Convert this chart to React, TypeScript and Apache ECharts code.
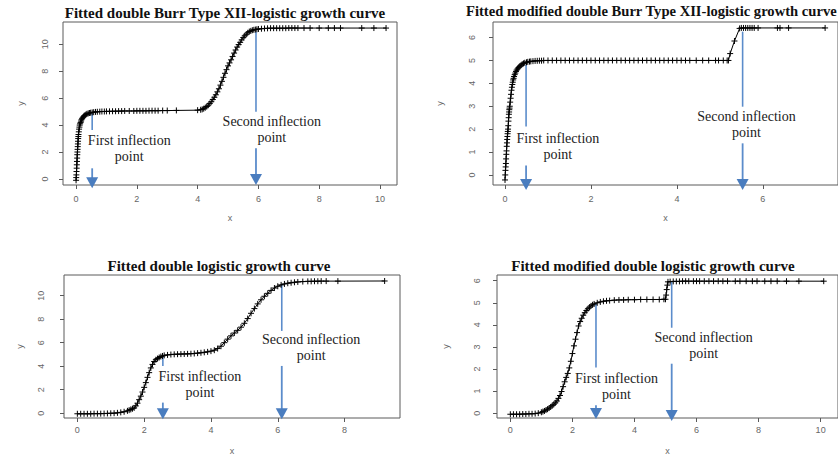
import React, { useEffect, useRef } from "react";
import * as echarts from "echarts";

// ---- fitted curves (x, y) ----
const burrX = [0, 0.005, 0.01, 0.015, 0.02, 0.025, 0.03, 0.035, 0.04, 0.045, 0.05, 0.055, 0.06, 0.065, 0.07, 0.075, 0.08, 0.09, 0.1, 0.11, 0.12, 0.135, 0.15, 0.165, 0.18, 0.2, 0.22, 0.245, 0.27, 0.3, 0.33, 0.36, 0.4, 0.44, 0.48, 0.53, 0.58, 0.64, 0.7, 0.78, 0.85, 0.93, 1.0, 1.1, 1.2, 1.3, 1.4, 1.5, 1.6, 1.75, 1.9, 2.0, 2.1, 2.2, 2.3, 2.4, 2.5, 2.6, 2.7, 2.85, 3.0, 3.3, 4.0, 4.1, 4.15, 4.2, 4.25, 4.3, 4.35, 4.4, 4.45, 4.5, 4.55, 4.6, 4.65, 4.7, 4.75, 4.8, 4.85, 4.9, 4.95, 5.0, 5.05, 5.1, 5.15, 5.2, 5.25, 5.3, 5.35, 5.4, 5.45, 5.5, 5.55, 5.6, 5.65, 5.7, 5.75, 5.8, 5.85, 5.9, 5.95, 6.0, 6.1, 6.2, 6.3, 6.4, 6.5, 6.6, 6.7, 6.8, 6.9, 7.0, 7.1, 7.2, 7.3, 7.5, 7.7, 8.0, 8.3, 8.5, 8.7, 9.4, 9.8, 10.2];
const burrY = [-0.1, 0.1, 0.3, 0.55, 0.8, 1.05, 1.3, 1.55, 1.8, 2.0, 2.2, 2.4, 2.6, 2.8, 3.0, 3.15, 3.3, 3.5, 3.7, 3.85, 4.0, 4.1, 4.2, 4.3, 4.4, 4.48, 4.55, 4.63, 4.7, 4.75, 4.8, 4.84, 4.87, 4.9, 4.92, 4.94, 4.96, 4.98, 4.99, 5.0, 5.01, 5.01, 5.02, 5.02, 5.03, 5.03, 5.04, 5.04, 5.05, 5.05, 5.05, 5.06, 5.06, 5.06, 5.06, 5.07, 5.07, 5.07, 5.07, 5.08, 5.08, 5.09, 5.11, 5.14, 5.17, 5.22, 5.29, 5.38, 5.48, 5.6, 5.74, 5.9, 6.07, 6.25, 6.47, 6.7, 6.97, 7.25, 7.55, 7.85, 8.12, 8.4, 8.62, 8.85, 9.1, 9.35, 9.58, 9.8, 9.98, 10.15, 10.33, 10.5, 10.63, 10.75, 10.86, 10.95, 11.0, 11.05, 11.08, 11.1, 11.12, 11.14, 11.16, 11.18, 11.19, 11.2, 11.2, 11.2, 11.2, 11.2, 11.2, 11.21, 11.21, 11.21, 11.21, 11.21, 11.21, 11.21, 11.21, 11.21, 11.21, 11.21, 11.21, 11.21];

const modBurrX = [0, 0.005, 0.01, 0.015, 0.02, 0.025, 0.03, 0.035, 0.04, 0.045, 0.05, 0.055, 0.06, 0.065, 0.07, 0.075, 0.08, 0.085, 0.09, 0.095, 0.1, 0.105, 0.11, 0.12, 0.13, 0.14, 0.15, 0.16, 0.17, 0.18, 0.19, 0.2, 0.21, 0.225, 0.24, 0.255, 0.27, 0.29, 0.31, 0.33, 0.35, 0.375, 0.4, 0.43, 0.46, 0.5, 0.53, 0.57, 0.6, 0.65, 0.7, 0.75, 0.8, 0.85, 0.9, 1.0, 1.1, 1.2, 1.3, 1.4, 1.5, 1.6, 1.7, 1.8, 1.9, 2.0, 2.1, 2.2, 2.3, 2.4, 2.5, 2.6, 2.7, 2.8, 2.9, 3.0, 3.1, 3.2, 3.3, 3.4, 3.5, 3.6, 3.7, 3.8, 3.9, 4.0, 4.1, 4.2, 4.3, 4.45, 4.6, 4.74, 4.9, 4.97, 5.08, 5.17, 5.2, 5.24, 5.34, 5.46, 5.5, 5.55, 5.6, 5.65, 5.7, 5.75, 5.8, 5.89, 6.34, 6.4, 6.6, 7.45];
const modBurrY = [-0.22, 0.0, 0.2, 0.35, 0.5, 0.7, 0.9, 1.05, 1.25, 1.4, 1.55, 1.68, 1.8, 1.9, 2.0, 2.15, 2.35, 2.5, 2.65, 2.75, 2.85, 2.92, 3.0, 3.18, 3.35, 3.52, 3.7, 3.83, 3.95, 4.05, 4.15, 4.22, 4.3, 4.38, 4.45, 4.52, 4.58, 4.63, 4.68, 4.72, 4.76, 4.8, 4.84, 4.87, 4.9, 4.92, 4.94, 4.95, 4.96, 4.97, 4.98, 4.985, 4.99, 4.99, 5.0, 5.0, 5.0, 5.0, 5.0, 5.0, 5.0, 5.0, 5.0, 5.0, 5.0, 5.0, 5.0, 5.0, 5.0, 5.0, 5.0, 5.0, 5.0, 5.0, 5.0, 5.0, 5.0, 5.0, 5.0, 5.0, 5.0, 5.0, 5.0, 5.0, 5.0, 5.0, 5.0, 5.0, 5.0, 5.0, 5.0, 5.0, 5.0, 5.0, 5.0, 5.0, 5.0, 5.3, 5.85, 6.4, 6.42, 6.42, 6.42, 6.42, 6.42, 6.42, 6.42, 6.42, 6.42, 6.42, 6.42, 6.42];

const logX = [0, 0.1, 0.2, 0.3, 0.4, 0.5, 0.6, 0.7, 0.8, 0.9, 1.0, 1.1, 1.2, 1.3, 1.4, 1.5, 1.55, 1.6, 1.65, 1.7, 1.75, 1.8, 1.85, 1.9, 1.95, 2.0, 2.05, 2.1, 2.15, 2.2, 2.25, 2.3, 2.35, 2.4, 2.45, 2.5, 2.55, 2.6, 2.7, 2.8, 2.9, 3.0, 3.1, 3.2, 3.3, 3.4, 3.5, 3.6, 3.7, 3.8, 3.9, 4.0, 4.1, 4.2, 4.3, 4.4, 4.5, 4.6, 4.7, 4.8, 4.9, 5.0, 5.1, 5.2, 5.3, 5.4, 5.5, 5.6, 5.7, 5.8, 5.9, 6.0, 6.1, 6.2, 6.3, 6.4, 6.5, 6.6, 6.75, 6.9, 7.0, 7.1, 7.2, 7.3, 7.45, 7.8, 9.2];
const logY = [-0.05, -0.05, -0.05, -0.05, -0.05, -0.04, -0.04, -0.04, -0.03, -0.02, -0.01, 0.0, 0.03, 0.07, 0.12, 0.2, 0.26, 0.32, 0.38, 0.45, 0.62, 0.85, 1.15, 1.45, 1.8, 2.2, 2.6, 3.05, 3.45, 3.85, 4.15, 4.4, 4.55, 4.65, 4.74, 4.82, 4.87, 4.92, 4.96, 4.99, 5.01, 5.02, 5.03, 5.04, 5.05, 5.06, 5.08, 5.11, 5.14, 5.18, 5.22, 5.28, 5.36, 5.5, 5.7, 6.0, 6.3, 6.58, 6.82, 7.05, 7.32, 7.65, 8.05, 8.5, 8.9, 9.3, 9.65, 9.95, 10.2, 10.45, 10.65, 10.8, 10.92, 11.0, 11.06, 11.1, 11.14, 11.17, 11.2, 11.22, 11.22, 11.23, 11.23, 11.24, 11.24, 11.24, 11.25];

const modLogX = [0, 0.1, 0.2, 0.3, 0.4, 0.5, 0.6, 0.7, 0.8, 0.9, 1.0, 1.05, 1.1, 1.15, 1.2, 1.25, 1.3, 1.35, 1.4, 1.45, 1.5, 1.55, 1.6, 1.65, 1.7, 1.75, 1.8, 1.85, 1.9, 1.95, 2.0, 2.05, 2.1, 2.15, 2.2, 2.25, 2.3, 2.35, 2.4, 2.45, 2.5, 2.55, 2.6, 2.65, 2.7, 2.8, 2.9, 3.0, 3.1, 3.2, 3.35, 3.5, 3.65, 3.8, 4.0, 4.2, 4.4, 4.6, 4.8, 4.95, 5.0, 5.02, 5.04, 5.06, 5.08, 5.15, 5.25, 5.35, 5.45, 5.55, 5.65, 5.75, 5.9, 6.0, 6.1, 6.25, 6.4, 6.55, 6.7, 6.85, 7.0, 7.25, 7.4, 7.6, 7.8, 7.95, 8.2, 8.4, 8.6, 8.9, 9.3, 10.1];
const modLogY = [-0.05, -0.05, -0.05, -0.05, -0.04, -0.04, -0.03, -0.03, -0.02, 0.0, 0.04, 0.07, 0.1, 0.14, 0.18, 0.23, 0.28, 0.34, 0.4, 0.47, 0.55, 0.67, 0.8, 0.98, 1.2, 1.42, 1.62, 1.8, 2.05, 2.35, 2.7, 3.05, 3.35, 3.65, 3.95, 4.15, 4.3, 4.44, 4.55, 4.65, 4.73, 4.8, 4.86, 4.91, 4.95, 5.0, 5.04, 5.07, 5.09, 5.1, 5.12, 5.13, 5.13, 5.14, 5.14, 5.15, 5.15, 5.15, 5.15, 5.16, 5.16, 5.35, 5.6, 5.8, 5.95, 5.96, 5.97, 5.97, 5.97, 5.98, 5.98, 5.98, 5.98, 5.98, 5.98, 5.98, 5.98, 5.98, 5.98, 5.98, 5.98, 5.98, 5.98, 5.98, 5.98, 5.98, 5.98, 5.98, 5.98, 5.98, 5.98, 5.98];

// ---- tick values ----
const ticksEven10 = [0, 2, 4, 6, 8, 10];
const ticksEven8 = [0, 2, 4, 6, 8];
const ticksEven6 = [0, 2, 4, 6];
const ticksUnit6 = [0, 1, 2, 3, 4, 5, 6];

const titles = [
  "Fitted double Burr Type XII-logistic growth curve",
  "Fitted modified double Burr Type XII-logistic growth curve",
  "Fitted double logistic growth curve",
  "Fitted modified double logistic growth curve",
];

const FIRST_LABEL = "First inflection\npoint";
const SECOND_LABEL = "Second inflection\npoint";

type Marker = {
  x: number; lineTop: number; lineBottom: number;
  tx: number; ty: number; arrowTop: number; arrowTip: number; label: string;
};

type Panel = {
  xs: number[]; ys: number[];
  box: { left: number; top: number; width: number; height: number };
  xMin: number; xMax: number; yMin: number; yMax: number;
  xTicks: number[]; yTicks: number[];
  title: { x: number; y: number; align: "center" | "left"; size: number };
  yLabelMargin: number; yNameGap: number; xLabelMargin: number; xNameGap: number;
  marks: Marker[];
};

const panels: Panel[] = [
  {
    xs: burrX, ys: burrY,
    box: { left: 63, top: 22, width: 334, height: 163 },
    xMin: -0.43, xMax: 10.56, yMin: -0.45, yMax: 11.66,
    xTicks: ticksEven10, yTicks: ticksEven10,
    title: { x: 225, y: 5, align: "center", size: 15 },
    yLabelMargin: 14, yNameGap: 38, xLabelMargin: 9, xNameGap: 28,
    marks: [
      { x: 0.53, lineTop: 4.88, lineBottom: 3.64, tx: 1.75, ty: 2.25, arrowTop: 0.79, arrowTip: -0.69, label: FIRST_LABEL },
      { x: 5.92, lineTop: 10.94, lineBottom: 5.0, tx: 6.44, ty: 3.7, arrowTop: 2.28, arrowTip: -0.45, label: SECOND_LABEL },
    ],
  },
  {
    xs: modBurrX, ys: modBurrY,
    box: { left: 493, top: 22, width: 352, height: 163 },
    xMin: -0.28, xMax: 7.75, yMin: -0.44, yMax: 6.68,
    xTicks: ticksEven6, yTicks: ticksUnit6,
    title: { x: 466, y: 3, align: "left", size: 14.6 },
    yLabelMargin: 17, yNameGap: 49, xLabelMargin: 9, xNameGap: 28,
    marks: [
      { x: 0.49, lineTop: 4.8, lineBottom: 2.11, tx: 1.23, ty: 1.25, arrowTop: 0.41, arrowTip: -0.66, label: FIRST_LABEL },
      { x: 5.53, lineTop: 6.26, lineBottom: 2.98, tx: 5.62, ty: 2.22, arrowTop: 1.38, arrowTip: -0.66, label: SECOND_LABEL },
    ],
  },
  {
    xs: logX, ys: logY,
    box: { left: 64, top: 275, width: 336, height: 149 },
    xMin: -0.4, xMax: 9.66, yMin: -0.41, yMax: 11.76,
    xTicks: ticksEven8, yTicks: ticksEven10,
    title: { x: 219, y: 258, align: "center", size: 15 },
    yLabelMargin: 19, yNameGap: 40, xLabelMargin: 7, xNameGap: 28,
    marks: [
      { x: 2.56, lineTop: 4.97, lineBottom: 4.02, tx: 3.67, ty: 2.46, arrowTop: 0.9, arrowTip: -0.52, label: FIRST_LABEL },
      { x: 6.12, lineTop: 11.0, lineBottom: 7.0, tx: 7.0, ty: 5.58, arrowTop: 4.02, arrowTip: -0.52, label: SECOND_LABEL },
    ],
  },
  {
    xs: modLogX, ys: modLogY,
    box: { left: 497, top: 275, width: 348, height: 149 },
    xMin: -0.43, xMax: 10.56, yMin: -0.22, yMax: 6.26,
    xTicks: ticksEven10, yTicks: ticksUnit6,
    title: { x: 653, y: 258, align: "center", size: 15 },
    yLabelMargin: 16, yNameGap: 47, xLabelMargin: 7, xNameGap: 28,
    marks: [
      { x: 2.76, lineTop: 4.99, lineBottom: 2.07, tx: 3.42, ty: 1.22, arrowTop: 0.36, arrowTip: -0.27, label: FIRST_LABEL },
      { x: 5.2, lineTop: 5.97, lineBottom: 3.87, tx: 6.23, ty: 3.07, arrowTop: 2.24, arrowTip: -0.36, label: SECOND_LABEL },
    ],
  },
];

const AXIS_GREY = "#5a5a5a";
const LABEL_GREY = "#666";
const BLUE_LINE = "#5b8ccb";
const BLUE_HEAD = "#4a7dbf";
const PLUS = "path://M0,5H10M5,0V10";

export default function App() {
  const ref = useRef<HTMLDivElement>(null);

  useEffect(() => {
    if (!ref.current) return;
    const chart = echarts.init(ref.current, undefined, { renderer: "svg" });

    const sans = "Liberation Sans, Arial, sans-serif";
    const serif = "Liberation Serif, Times New Roman, serif";

    chart.setOption({
      animation: false,
      backgroundColor: "#fff",
      title: panels.map((p, i) => ({
        text: titles[i],
        left: p.title.x,
        top: p.title.y,
        textAlign: p.title.align,
        padding: 0,
        textStyle: { fontFamily: serif, fontWeight: "bold", fontSize: p.title.size, color: "#111" },
      })),
      grid: panels.map((p) => ({
        left: p.box.left,
        top: p.box.top,
        width: p.box.width,
        height: p.box.height,
        show: true,
        borderColor: AXIS_GREY,
        borderWidth: 1,
        backgroundColor: "transparent",
      })),
      xAxis: panels.map((p, i) => ({
        type: "value",
        gridIndex: i,
        min: p.xMin,
        max: p.xMax,
        axisLine: { show: false, onZero: false },
        axisTick: { show: true, inside: false, length: 4, customValues: p.xTicks, lineStyle: { color: AXIS_GREY } },
        axisLabel: { customValues: p.xTicks, margin: p.xLabelMargin, color: LABEL_GREY, fontSize: 9, fontFamily: sans },
        splitLine: { show: false },
        name: "x",
        nameLocation: "middle",
        nameGap: p.xNameGap,
        nameTextStyle: { color: LABEL_GREY, fontSize: 9, fontFamily: sans },
      })),
      yAxis: panels.map((p, i) => ({
        type: "value",
        gridIndex: i,
        min: p.yMin,
        max: p.yMax,
        axisLine: { show: false, onZero: false },
        axisTick: { show: true, inside: false, length: 4, customValues: p.yTicks, lineStyle: { color: AXIS_GREY } },
        axisLabel: { customValues: p.yTicks, rotate: 90, margin: p.yLabelMargin, color: LABEL_GREY, fontSize: 9, fontFamily: sans },
        splitLine: { show: false },
        name: "y",
        nameLocation: "middle",
        nameRotate: 90,
        nameGap: p.yNameGap,
        nameTextStyle: { color: LABEL_GREY, fontSize: 9, fontFamily: sans },
      })),
      series: panels.map((p, i) => ({
        type: "line",
        xAxisIndex: i,
        yAxisIndex: i,
        data: p.xs.map((x, k) => [x, p.ys[k]]),
        showSymbol: true,
        showAllSymbol: true,
        symbol: PLUS,
        symbolSize: 6,
        itemStyle: { color: "transparent", borderColor: "#000", borderWidth: 1 },
        lineStyle: { color: "#000", width: 1 },
        emphasis: { disabled: true },
        silent: true,
      })),
    });

    // inflection-point annotations, placed through each grid's own axes
    const graphics: any[] = [];
    panels.forEach((p, i) => {
      const px = (x: number, y: number) => chart.convertToPixel({ gridIndex: i } as any, [x, y]) as number[];
      p.marks.forEach((m) => {
        const a = px(m.x, m.lineTop);
        const b = px(m.x, m.lineBottom);
        graphics.push({
          type: "line",
          shape: { x1: a[0], y1: a[1], x2: b[0], y2: b[1] },
          style: { stroke: BLUE_LINE, lineWidth: 1.6 },
          silent: true,
        });
        const c = px(m.x, m.arrowTop);
        const d = px(m.x, m.arrowTip);
        const headH = 11;
        const headW = 12;
        graphics.push({
          type: "line",
          shape: { x1: c[0], y1: c[1], x2: d[0], y2: d[1] - headH + 1 },
          style: { stroke: BLUE_LINE, lineWidth: 1.8 },
          silent: true,
        });
        graphics.push({
          type: "polygon",
          shape: { points: [[d[0] - headW / 2, d[1] - headH], [d[0] + headW / 2, d[1] - headH], [d[0], d[1]]] },
          style: { fill: BLUE_HEAD },
          silent: true,
        });
        const t = px(m.tx, m.ty);
        graphics.push({
          type: "text",
          x: t[0],
          y: t[1],
          silent: true,
          style: {
            text: m.label,
            fontFamily: serif,
            fontSize: 14,
            lineHeight: 16,
            fill: "#222",
            align: "center",
            verticalAlign: "middle",
            backgroundColor: "#fff",
            padding: [0, 1],
          },
        });
      });
    });
    chart.setOption({ graphic: graphics });

    return () => chart.dispose();
  }, []);

  return (
    <div
      ref={ref}
      style={{ position: "fixed", left: 0, top: 0, width: 838, height: 456, background: "#fff" }}
    />
  );
}
